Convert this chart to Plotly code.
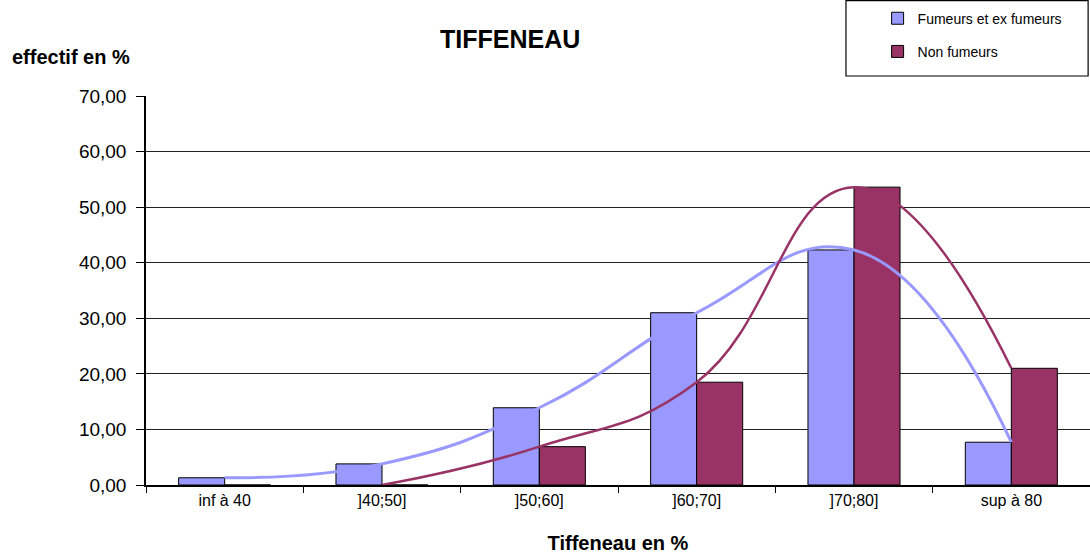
import plotly.graph_objects as go

categories = ["inf à 40", "]40;50]", "]50;60]", "]60;70]", "]70;80]", "sup à 80"]
fumeurs = [1.3, 3.8, 13.9, 31.0, 42.3, 7.7]
non_fumeurs = [0.0, 0.0, 6.9, 18.5, 53.6, 21.0]
curve_cats_nf = categories[1:]
curve_nf = non_fumeurs[1:]
ytick_vals = [0, 10, 20, 30, 40, 50, 60, 70]
ytick_text = ["0,00", "10,00", "20,00", "30,00", "40,00", "50,00", "60,00", "70,00"]

BLUE = "#9999FF"
RED = "#993366"
FONT = "Liberation Sans, Arial, sans-serif"

fig = go.Figure()
fig.add_trace(go.Bar(x=categories, y=fumeurs, name="Fumeurs et ex fumeurs", legendgroup="a",
                     marker=dict(color=BLUE, line=dict(color="black", width=1))))
fig.add_trace(go.Bar(x=categories, y=non_fumeurs, name="Non fumeurs", legendgroup="b",
                     marker=dict(color=RED, line=dict(color="black", width=1))))
fig.add_trace(go.Scatter(x=categories, y=fumeurs, mode="lines", showlegend=False,
                         line=dict(color=BLUE, width=3, shape="spline", smoothing=1.3),
                         hoverinfo="skip"))
fig.add_trace(go.Scatter(x=curve_cats_nf, y=curve_nf, mode="lines", showlegend=False,
                         line=dict(color=RED, width=2.5, shape="spline", smoothing=1.3),
                         hoverinfo="skip"))

fig.update_layout(
    width=1090, height=554,
    margin=dict(l=146, r=0, t=96, b=69),
    paper_bgcolor="white", plot_bgcolor="white",
    barmode="group", bargap=0.415, bargroupgap=0,
    font=dict(family=FONT, color="black"),
    showlegend=True,
    legend=dict(x=0.775, y=1.24, xanchor="left", yanchor="top",
                borderwidth=0, bgcolor="rgba(0,0,0,0)",
                font=dict(size=14, family=FONT), tracegroupgap=12),
    title=dict(text="<b>TIFFENEAU</b>", x=0.468, xanchor="center", y=0.93, yanchor="middle",
               font=dict(size=25, family=FONT)),
)
fig.add_shape(type="rect", xref="paper", yref="paper", x0=0.7415, x1=0.998, y0=1.0514, y1=1.245,
              line=dict(color="black", width=1.2), fillcolor="rgba(0,0,0,0)", layer="below")
fig.update_xaxes(type="category", categoryorder="array", categoryarray=categories,
                 showline=True, linecolor="black", linewidth=1.5,
                 ticks="outside", tickson="boundaries", ticklen=6, tickcolor="black",
                 tickfont=dict(size=16), showgrid=False,
                 title=dict(text="<b>Tiffeneau en %</b>", font=dict(size=20), standoff=29))
fig.update_yaxes(range=[0, 70], tickvals=ytick_vals, ticktext=ytick_text,
                 showline=True, linecolor="black", linewidth=1.5,
                 ticks="outside", ticklen=8, tickcolor="black", ticklabelstandoff=6,
                 showgrid=True, gridcolor="#222222", gridwidth=1,
                 tickfont=dict(size=19), zeroline=False)
fig.add_annotation(text="<b>effectif en %</b>", xref="paper", yref="paper",
                   x=-0.1445, y=1.1, xanchor="left", yanchor="middle", showarrow=False,
                   font=dict(size=20, family=FONT))

fig.write_html("out.html", post_script="document.body.style.margin='0';",
               config={"displayModeBar": False})
